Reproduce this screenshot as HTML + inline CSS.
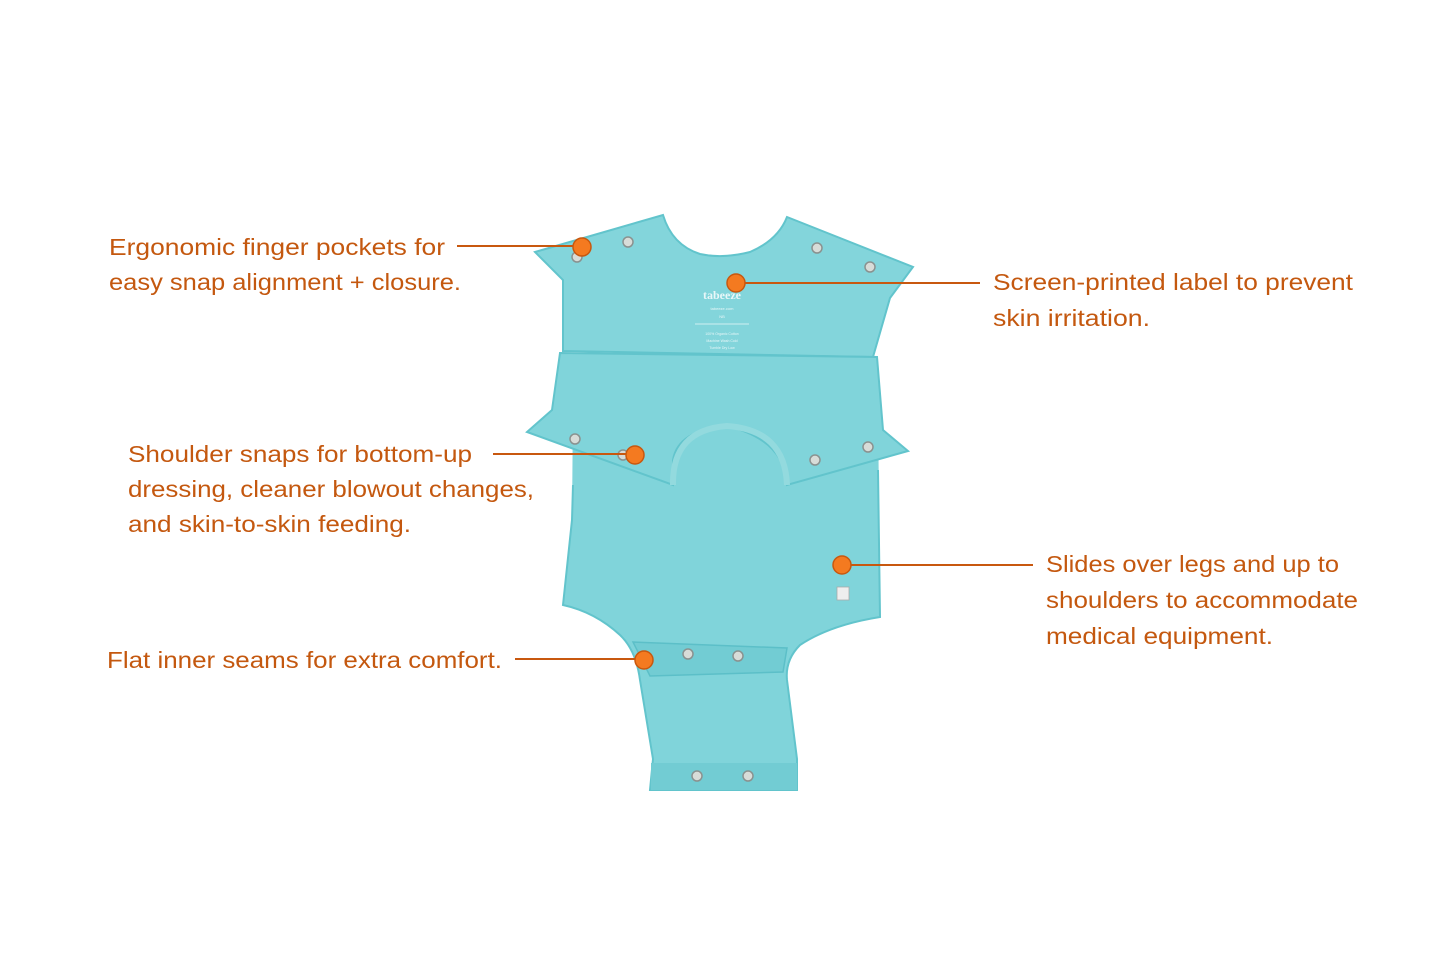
<!DOCTYPE html>
<html><head><meta charset="utf-8"><style>
html,body{margin:0;padding:0;background:#fff;}
svg{display:block;}
.t{font-family:"Liberation Sans",sans-serif;font-size:23px;fill:#c4580f;}
.l{stroke:#c8580f;stroke-width:2;}
.d{fill:#f47a20;stroke:#c8580f;stroke-width:1.5;}
.s{fill:#d8dcd8;stroke:#8a9290;stroke-width:1.5;}
</style></head><body>
<svg width="1445" height="963" viewBox="0 0 1445 963" xmlns="http://www.w3.org/2000/svg">
<rect width="1445" height="963" fill="#fff"/>
<!-- body below -->
<path d="M573 400 L878 400 L880 617 Q830 625 800 645 Q785 660 787 680 L797 759 L797 790 L650 790 L653 759 L640 680 Q636 650 620 635 Q595 612 563 605 L572 520 Z" fill="#80d4da"/>
<path d="M573 485 L572 520 L563 605 Q595 612 620 635 Q636 650 640 680 L653 759 L650 790 L797 790 L797 759 L787 680 Q785 660 800 645 Q830 625 880 617 L878 470" fill="none" stroke="#62c4cc" stroke-width="2"/>
<!-- crotch flap -->
<path d="M633 642 L787 648 L783 672 L650 676 Z" fill="#72ccd3" stroke="#5cbfc8" stroke-width="1.5"/>
<rect x="651" y="763" width="146" height="27" fill="#72ccd3"/>
<!-- top back piece -->
<path d="M535 252 L663 215 Q672 245 700 254 Q723 259 750 252 Q778 240 787 217 L913 267 L890 298 L873 357 L563 351 L563 280 Z" fill="#83d5db" stroke="#62c4cc" stroke-width="2"/>
<!-- front panel -->
<path d="M560 353 L877 357 L883 430 L908 451 L787 485 Q785 440 727 426 Q678 430 673 460 L673 485 L527 432 L552 410 Z" fill="#80d4da" stroke="#62c4cc" stroke-width="2"/>
<path d="M673 485 Q672 430 727 426 Q785 430 787 485" fill="none" stroke="#93dade" stroke-width="6"/>
<!-- label -->
<text x="722" y="299" text-anchor="middle" font-family="Liberation Serif,serif" font-size="12" font-weight="bold" fill="#e8f7f8">tabeeze</text>
<text x="722" y="310" text-anchor="middle" font-family="Liberation Sans,sans-serif" font-size="4" fill="#e8f7f8">tabeeze.com</text>
<text x="722" y="318" text-anchor="middle" font-family="Liberation Sans,sans-serif" font-size="4" fill="#e8f7f8">NB</text>
<line x1="695" y1="324" x2="749" y2="324" stroke="#e8f7f8" stroke-width="0.8"/>
<text x="722" y="335" text-anchor="middle" font-family="Liberation Sans,sans-serif" font-size="3.5" fill="#e8f7f8">100% Organic Cotton</text>
<text x="722" y="342" text-anchor="middle" font-family="Liberation Sans,sans-serif" font-size="3.5" fill="#e8f7f8">Machine Wash Cold</text>
<text x="722" y="349" text-anchor="middle" font-family="Liberation Sans,sans-serif" font-size="3.5" fill="#e8f7f8">Tumble Dry Low</text>
<!-- snaps -->
<g class="s">
<circle cx="628" cy="242" r="5"/><circle cx="577" cy="257" r="5"/><circle cx="817" cy="248" r="5"/><circle cx="870" cy="267" r="5"/>
<circle cx="575" cy="439" r="5"/><circle cx="623" cy="455" r="5"/><circle cx="815" cy="460" r="5"/><circle cx="868" cy="447" r="5"/>
<circle cx="688" cy="654" r="5"/><circle cx="738" cy="656" r="5"/><circle cx="697" cy="776" r="5"/><circle cx="748" cy="776" r="5"/>
</g>
<rect x="837" y="587" width="12" height="13" fill="#eee" stroke="#aaa" stroke-width="0.8"/>
<!-- lines -->
<line class="l" x1="457" y1="246" x2="582" y2="246"/>
<line class="l" x1="736" y1="283" x2="980" y2="283"/>
<line class="l" x1="493" y1="454" x2="635" y2="454"/>
<line class="l" x1="842" y1="565" x2="1033" y2="565"/>
<line class="l" x1="515" y1="659" x2="644" y2="659"/>
<circle class="d" cx="582" cy="247" r="9"/>
<circle class="d" cx="736" cy="283" r="9"/>
<circle class="d" cx="635" cy="455" r="9"/>
<circle class="d" cx="842" cy="565" r="9"/>
<circle class="d" cx="644" cy="660" r="9"/>
<!-- text -->
<text class="t" x="109" y="255" textLength="336" lengthAdjust="spacingAndGlyphs">Ergonomic finger pockets for</text>
<text class="t" x="109" y="290" textLength="352" lengthAdjust="spacingAndGlyphs">easy snap alignment + closure.</text>
<text class="t" x="993" y="290" textLength="360" lengthAdjust="spacingAndGlyphs">Screen-printed label to prevent</text>
<text class="t" x="993" y="326" textLength="157" lengthAdjust="spacingAndGlyphs">skin irritation.</text>
<text class="t" x="128" y="462" textLength="344" lengthAdjust="spacingAndGlyphs">Shoulder snaps for bottom-up</text>
<text class="t" x="128" y="497" textLength="406" lengthAdjust="spacingAndGlyphs">dressing, cleaner blowout changes,</text>
<text class="t" x="128" y="532" textLength="283" lengthAdjust="spacingAndGlyphs">and skin-to-skin feeding.</text>
<text class="t" x="1046" y="572" textLength="293" lengthAdjust="spacingAndGlyphs">Slides over legs and up to</text>
<text class="t" x="1046" y="608" textLength="312" lengthAdjust="spacingAndGlyphs">shoulders to accommodate</text>
<text class="t" x="1046" y="644" textLength="227" lengthAdjust="spacingAndGlyphs">medical equipment.</text>
<text class="t" x="107" y="668" textLength="395" lengthAdjust="spacingAndGlyphs">Flat inner seams for extra comfort.</text>
</svg>
</body></html>
